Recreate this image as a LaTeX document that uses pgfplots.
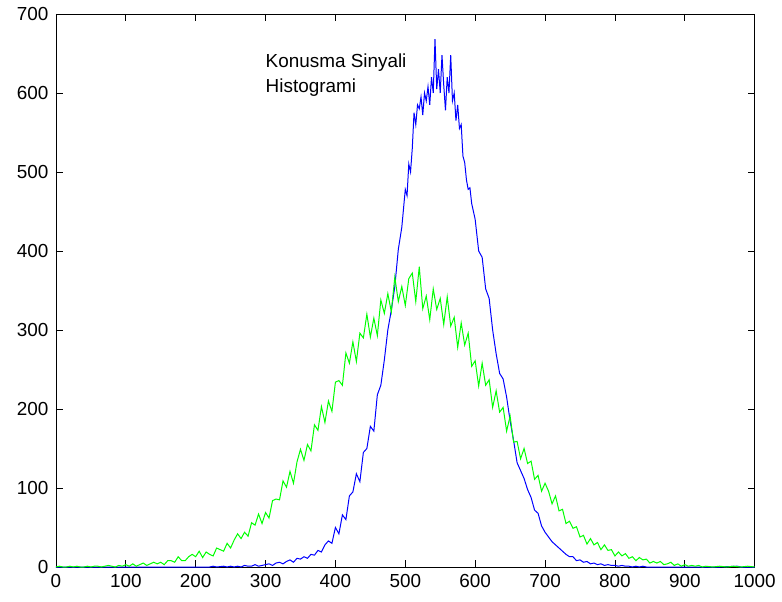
\documentclass[border=0pt]{standalone}
\usepackage{fontspec}
\setmainfont{Liberation Sans}
\usepackage{pgfplots}
\pgfplotsset{compat=1.18}
\usetikzlibrary{calc}

\definecolor{mblue}{rgb}{0,0,1}
\definecolor{mgreen}{rgb}{0,1,0}

\begin{document}
\fontsize{19}{25}\selectfont
\begin{tikzpicture}
\begin{axis}[
    scale only axis,
    width=700bp, height=554bp,
    xmin=0, xmax=1000,
    ymin=0, ymax=700,
    xtick={0,100,...,1000},
    ytick={0,100,...,700},
    tick align=inside,
    major tick length=7bp,
    tick style={black, line width=0.8bp},
    axis line style={black, line width=0.8bp},
    /pgf/number format/assume math mode=true,
    /pgf/number format/1000 sep={},
    tick label style={font=\fontsize{19}{25}\selectfont},
    xticklabel style={yshift=-1bp},
    yticklabel style={xshift=-1bp},
]
% blue: narrow histogram
\addplot[mblue, line width=1bp] coordinates {
(0,0)(50,0)(100,0)(150,0)(200,0)(220,0)(225,1)(230,0)(240,1)(245,0)(250,1)(255,0)(260,1)(265,0)(270,2)(275,1)(280,1)(285,3)(290,1)(295,2)
(300,3)(305,4)(310,2)(315,5)(320,6)(325,4)(330,7)(335,9)(340,6)(345,11)(350,10)(355,13)(360,11)(365,16)(370,15)(375,21)(380,19)(385,28)(390,33)(395,30)
(400,50)(405,42)(410,66)(415,60)(420,90)(425,95)(430,118)(435,108)(440,145)(445,150)(450,178)(455,172)(460,218)(465,230)(470,262)(475,300)(480,325)(485,355)(490,402)(495,430)
(500,478)(502.5,470)(505,510)(507.5,500)(510,530)(512.5,575)(515,560)(517.5,585)(520,580)(522.5,595)(525,572)(527.5,600)(530,590)(532.5,608)(535,585)(537.5,620)(540,600)(542.5,668)(545,605)(547.5,630)
(550,600)(552.5,648)(555,610)(557.5,578)(560,620)(562.5,600)(565,648)(567.5,590)(570,600)(572.5,565)(575,585)(577.5,555)(580,560)(582.5,520)(585,512)(587.5,490)(590,478)(592.5,480)(595,460)(597.5,450)
(600,440)(605,400)(610,392)(615,352)(620,340)(625,300)(630,270)(635,245)(640,238)(645,215)(650,185)(655,160)(660,132)(665,122)(670,112)(675,98)(680,88)(685,72)(690,68)(695,52)
(700,44)(705,38)(710,32)(715,28)(720,24)(725,20)(730,16)(735,13)(740,13)(745,8)(750,9)(755,6)(760,7)(765,4)(770,5)(775,3)(780,4)(785,2)(790,3)(795,2)
(800,2)(805,1)(810,2)(815,1)(820,1)(825,0)(830,1)(835,0)(840,1)(845,0)(850,0)(900,0)(950,0)(975,1)(980,0)(1000,0)
};
% green: wide histogram
\addplot[mgreen, line width=1bp] coordinates {
(0,0)(5,1)(10,0)(15,0)(20,1)(25,0)(30,1)(35,0)(40,0)(45,1)(50,0)(55,1)(60,1)(65,0)(70,1)(75,2)(80,1)(85,0)(90,2)(95,1)
(100,3)(105,1)(110,4)(115,1)(120,3)(125,5)(130,2)(135,4)(140,6)(145,4)(150,6)(155,3)(160,8)(165,8)(170,6)(175,13)(180,8)(185,8)(190,13)(195,16)
(200,13)(205,20)(210,12)(215,19)(220,16)(225,14)(230,24)(235,22)(240,20)(245,30)(250,24)(255,34)(260,42)(265,36)(270,44)(275,39)(280,56)(285,53)(290,67)(295,55)
(300,69)(305,62)(310,84)(315,86)(320,85)(325,109)(330,101)(335,121)(340,106)(345,133)(350,149)(355,135)(360,155)(365,147)(370,180)(375,173)(380,203)(385,183)(390,210)(395,197)
(400,234)(405,236)(410,230)(415,271)(420,258)(425,285)(430,260)(435,296)(440,290)(445,320)(450,291)(455,315)(460,293)(465,338)(470,321)(475,346)(480,323)(485,367)(490,336)(495,355)
(500,331)(505,365)(510,372)(515,336)(520,380)(525,327)(530,343)(535,313)(540,352)(545,326)(550,340)(555,307)(560,342)(565,305)(570,316)(575,278)(580,309)(585,281)(590,296)(595,254)
(600,261)(605,229)(610,258)(615,230)(620,237)(625,202)(630,223)(635,196)(640,202)(645,172)(650,191)(655,158)(660,159)(665,137)(670,150)(675,131)(680,134)(685,111)(690,116)(695,96)
(700,106)(705,96)(710,80)(715,90)(720,71)(725,73)(730,55)(735,58)(740,49)(745,51)(750,38)(755,40)(760,29)(765,36)(770,28)(775,31)(780,22)(785,28)(790,21)(795,22)
(800,14)(805,19)(810,14)(815,17)(820,11)(825,13)(830,8)(835,12)(840,9)(845,10)(850,5)(855,7)(860,5)(865,7)(870,3)(875,4)(880,6)(885,2)(890,4)(895,1)
(900,3)(905,1)(910,2)(915,1)(920,2)(925,0)(930,1)(940,0)(950,1)(960,0)(970,1)(980,0)(990,1)(1000,0)
};
\node[anchor=north west, align=left, inner sep=0pt, font=\fontsize{19}{25}\selectfont]
  at (axis cs:300,650) {Konusma Sinyali\\Histogrami};
\end{axis}
\path (current axis.south west) ++(-56bp,-35bp) rectangle ($(current axis.north east)+(26bp,14bp)$);
\end{tikzpicture}
\end{document}
